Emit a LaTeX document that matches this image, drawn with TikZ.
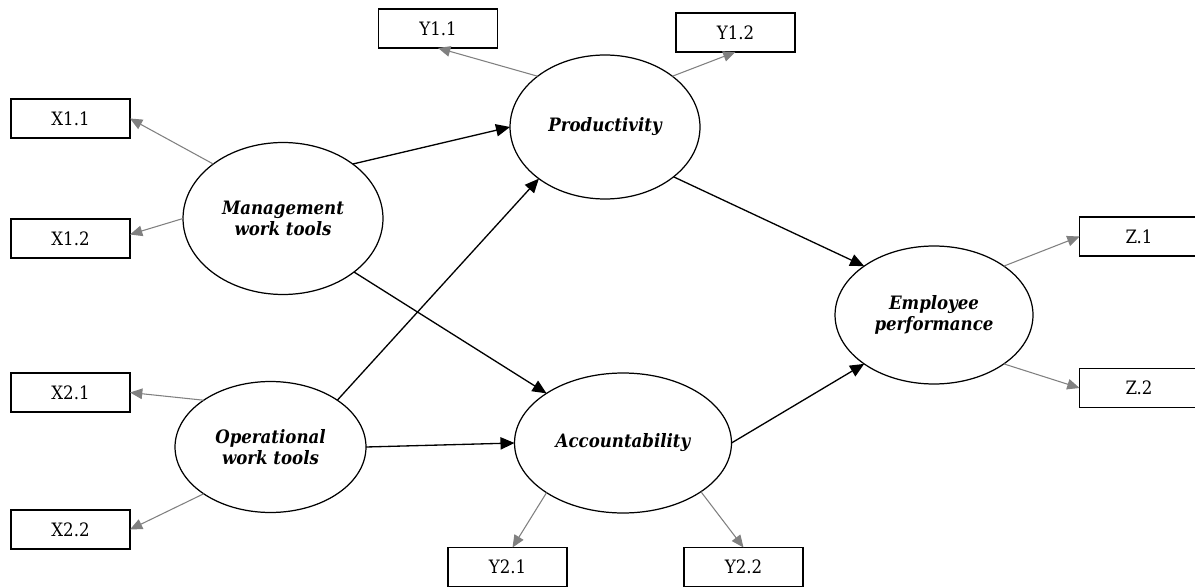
\documentclass[tikz,border=0pt]{standalone}
\usepackage{fontspec}
\setmainfont{DejaVu Serif Condensed}
\usetikzlibrary{arrows.meta,shapes.geometric}
\definecolor{lgray}{RGB}{128,128,128}
\begin{document}
\begin{tikzpicture}[x=0.02cm,y=-0.02cm,
  lat/.style={ellipse,draw=black,line width=0.7pt,inner sep=0pt,outer sep=0pt,
    font=\bfseries\itshape\fontsize{10.5}{12.3}\selectfont,align=center},
  ind/.style={rectangle,draw=black,line width=0.7pt,minimum width=2.38cm,
    minimum height=0.78cm,inner sep=0pt,outer sep=0pt,font=\fontsize{10.5}{12}\selectfont},
  struct/.style={draw=black,line width=0.75pt,-{Triangle[length=8pt,width=7pt]}},
  load/.style={draw=lgray,line width=0.6pt,-{Triangle[length=7pt,width=6pt]}}]
\fill[white] (0,0) rectangle (1195,587);
\useasboundingbox (0,0) rectangle (1195,587);
% latent variables
\node[lat,minimum width=3.8cm,minimum height=2.88cm] (prod) at (605,127) {Productivity};
\node[lat,minimum width=4cm,minimum height=3.04cm] (mgmt) at (283,218.5) {Management\\work tools};
\node[lat,minimum width=3.82cm,minimum height=2.62cm] (oper) at (270.5,447) {Operational\\work tools};
\node[lat,minimum width=4.34cm,minimum height=2.8cm] (acc) at (623,443) {Accountability};
\node[lat,minimum width=3.96cm,minimum height=2.76cm] (emp) at (934,315) {Employee\\performance};
% indicators
\node[ind] (y11) at (438,28.5) {Y1.1};
\node[ind] (y12) at (735.5,32.5) {Y1.2};
\node[ind] (x11) at (70.5,118.5) {X1.1};
\node[ind] (x12) at (70.5,238.5) {X1.2};
\node[ind] (x21) at (70.5,392.5) {X2.1};
\node[ind] (x22) at (70.5,529.5) {X2.2};
\node[ind] (y21) at (507.5,567) {Y2.1};
\node[ind] (y22) at (743.5,567) {Y2.2};
\node[ind] (z1) at (1139,236.5) {Z.1};
\node[ind] (z2) at (1139,388) {Z.2};
% structural paths
\draw[struct] (mgmt.38) -- (prod.180);
\draw[struct] (mgmt.-37) -- (acc.147);
\draw[struct] (oper.35) -- (prod.218);
\draw[struct] (oper.0) -- (acc.180);
\draw[struct] (prod.-36) -- (emp.145);
\draw[struct] (acc.0) -- (emp.215);
% loadings
\draw[load] (prod.143) -- (y11.south);
\draw[load] (prod.37) -- (y12.south);
\draw[load] (mgmt.142) -- (x11.east);
\draw[load] (mgmt.180) -- ([yshift=0.08cm]x12.east);
\draw[load] (oper.145) -- (x21.east);
\draw[load] (oper.215) -- (x22.east);
\draw[load] (acc.213) -- ([xshift=0.1cm]y21.north);
\draw[load] (acc.-32.5) -- (y22.north);
\draw[load] (emp.35.5) -- (z1.west);
\draw[load] (emp.-35) -- (z2.west);
\end{tikzpicture}
\end{document}
